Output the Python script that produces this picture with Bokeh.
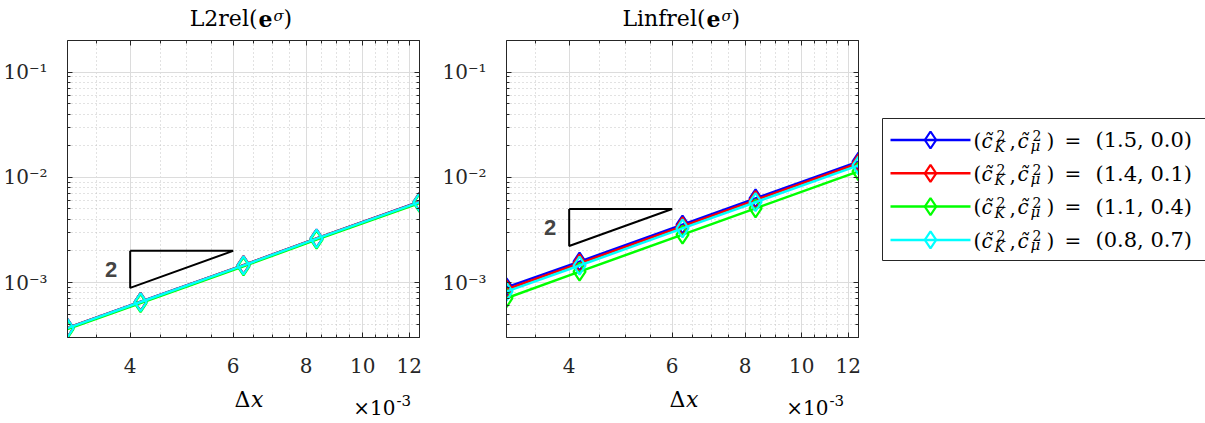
from bokeh.plotting import figure
from bokeh.models import Range1d, FixedTicker, CustomJSTickFormatter, LogAxis, Label
from bokeh.layouts import row, column
from bokeh.embed import file_html
from bokeh.resources import INLINE

# ---------------- data ----------------
dx = [1/320, 1/240, 1/160, 1/120, 1/80]
series_values = ["(1.5, 0.0)", "(1.4, 0.1)", "(1.1, 0.4)", "(0.8, 0.7)"]
colors = ["#0000ff", "#ff0000", "#00ff00", "#00ffff"]

l2_blue = [3.70e-4, 6.56e-4, 1.465e-3, 2.63e-3, 5.86e-3]
l2_red = [3.69e-4, 6.54e-4, 1.46e-3, 2.62e-3, 5.84e-3]
l2_green = [3.60e-4, 6.38e-4, 1.425e-3, 2.56e-3, 5.70e-3]
l2_cyan = [3.68e-4, 6.52e-4, 1.455e-3, 2.61e-3, 5.82e-3]

linf_blue = [9.0e-4, 1.58e-3, 3.55e-3, 6.3e-3, 1.41e-2]
linf_red = [8.6e-4, 1.52e-3, 3.42e-3, 6.08e-3, 1.36e-2]
linf_green = [7.1e-4, 1.27e-3, 2.85e-3, 5.07e-3, 1.14e-2]
linf_cyan = [8.2e-4, 1.45e-3, 3.27e-3, 5.8e-3, 1.30e-2]

x_ticks = [0.004, 0.006, 0.008, 0.010, 0.012]
x_minor = [0.0035, 0.0045, 0.005, 0.0055, 0.0065, 0.007, 0.0075, 0.0085,
           0.009, 0.0095, 0.0105, 0.011, 0.0115, 0.0125]
y_ticks = [1e-3, 1e-2, 1e-1]
y_minor = [3e-4, 4e-4, 5e-4, 6e-4, 7e-4, 8e-4, 9e-4,
           2e-3, 3e-3, 4e-3, 5e-3, 6e-3, 7e-3, 8e-3, 9e-3,
           2e-2, 3e-2, 4e-2, 5e-2, 6e-2, 7e-2, 8e-2, 9e-2, 2e-1]

tri_x = [0.004, 0.006]
l2_tri_top = 2e-3
linf_tri_top = 5e-3
tri_slope = 2

XMIN, XMAX = 1/320, 1/80
YMIN, YMAX = 3e-4, 0.2

SERIF = "DejaVu Serif"
AX = "#262626"
FW, FH = 352, 297
TOP_H = 32      # title strip
BOT_H = 38      # x-label strip
MB_TOP, MB_BOT = 8, 48
W1, W2, W3 = 439, 426, 340

yfmt_code = """
const e = Math.round(Math.log10(tick));
const sup = {"-":"\u207b","0":"\u2070","1":"\u00b9","2":"\u00b2","3":"\u00b3","4":"\u2074","5":"\u2075","6":"\u2076","7":"\u2077","8":"\u2078","9":"\u2079"};
return "10" + String(e).split("").map(c => sup[c]).join("");
"""
xfmt_code = "return String(Math.round(tick*1000));"


def style_axis(ax, show_labels):
    ax.axis_line_color = AX
    ax.axis_line_width = 1
    ax.major_tick_line_color = AX
    ax.minor_tick_line_color = AX
    ax.major_tick_in = 5
    ax.major_tick_out = 0
    ax.minor_tick_in = 3
    ax.minor_tick_out = 0
    if show_labels:
        ax.major_label_text_font = SERIF
        ax.major_label_text_font_size = "20px"
        ax.major_label_text_color = AX
    else:
        ax.major_label_text_font_size = "0px"
        ax.major_label_standoff = 0


def text_fig(w, h):
    f = figure(frame_width=w, frame_height=h, x_range=Range1d(0, w), y_range=Range1d(h, 0),
               output_backend="svg", toolbar_location=None, min_border=0, title=None,
               x_axis_location=None, y_axis_location=None)
    f.outline_line_color = None
    for g in f.grid:
        g.visible = False
    return f


def put(f, x, base, text, size, align="left", style="normal", font=SERIF):
    # 'base' is the wanted baseline; text is placed by its middle (cap-height centre)
    px = float(size.replace("px", ""))
    f.add_layout(Label(x=x, y=base - 0.365 * px, text=text, text_font=font, text_font_size=size,
                       text_font_style=style, text_align=align, text_baseline="middle",
                       text_color="black"))


def make_panel(series, tri_top, left_b, right_b):
    p = figure(frame_width=FW, frame_height=FH, x_axis_type="log", y_axis_type="log",
               x_range=Range1d(XMIN, XMAX), y_range=Range1d(YMIN, YMAX),
               output_backend="svg", toolbar_location=None, title=None,
               min_border_left=left_b, min_border_right=right_b,
               min_border_top=MB_TOP, min_border_bottom=MB_BOT)
    p.outline_line_color = None

    xt = FixedTicker(ticks=x_ticks, minor_ticks=x_minor)
    yt = FixedTicker(ticks=y_ticks, minor_ticks=y_minor)
    p.xaxis.ticker = xt
    p.yaxis.ticker = yt
    p.xaxis.formatter = CustomJSTickFormatter(code=xfmt_code)
    p.yaxis.formatter = CustomJSTickFormatter(code=yfmt_code)
    style_axis(p.xaxis[0], True)
    style_axis(p.yaxis[0], True)
    p.xaxis.major_label_standoff = 20
    p.yaxis.major_label_standoff = 20

    empty = CustomJSTickFormatter(code="return '';")
    top_ax = LogAxis(ticker=xt, formatter=empty)
    right_ax = LogAxis(ticker=yt, formatter=empty)
    style_axis(top_ax, False)
    style_axis(right_ax, False)
    p.add_layout(top_ax, "above")
    p.add_layout(right_ax, "right")

    for g in (p.xgrid[0], p.ygrid[0]):
        g.grid_line_color = "#dcdcdc"
        g.grid_line_width = 1
        g.minor_grid_line_color = "#c4c4c4"
        g.minor_grid_line_dash = "1 3"
        g.minor_grid_line_width = 1
    p.xgrid[0].ticker = xt
    p.ygrid[0].ticker = yt

    # slope triangle
    tri_bot = tri_top * (tri_x[0] / tri_x[1]) ** tri_slope
    p.line([tri_x[0], tri_x[1], tri_x[0], tri_x[0]], [tri_top, tri_top, tri_bot, tri_top],
           line_color="black", line_width=2)
    p.add_layout(Label(x=tri_x[0], y=(tri_top * tri_bot) ** 0.5, x_offset=-19,
                       text=str(tri_slope), text_font="Liberation Sans", text_font_style="bold",
                       text_font_size="22px", text_align="center", text_baseline="middle"))

    for vals, c in zip(series, colors):
        p.line(dx, vals, line_color=c, line_width=2.5)
        p.scatter(dx, vals, marker="diamond", size=18, line_color=c, fill_color=None, line_width=2.2)
    return p


def title_fig(w, main, a):
    f = text_fig(w, TOP_H)
    put(f, a, 26.5, main, "22px", align="right")
    put(f, a + 1, 26.5, "e", "22px", style="bold")
    put(f, a + 16, 21, "\u03c3", "15px", style="italic")
    put(f, a + 26, 26.5, ")", "22px")
    return f


def bottom_fig(w, dpos, epos):
    f = text_fig(w, BOT_H)
    put(f, dpos, 21.7, "\u0394", "22px", align="right")
    put(f, dpos + 0.5, 21.7, "x", "22px", style="italic")
    put(f, epos, 30, "\u00d710", "20px", align="right")
    put(f, epos + 1, 20, "-3", "15px")
    return f


p1 = make_panel([l2_blue, l2_red, l2_green, l2_cyan], l2_tri_top, 67, W1 - 67 - FW)
p2 = make_panel([linf_blue, linf_red, linf_green, linf_cyan], linf_tri_top, 62, W2 - 62 - FW)

t1 = title_fig(W1, "L2rel(", 257)
t2 = title_fig(W2, "Linfrel(", 266)
b1 = bottom_fig(W1, 250, 395)
b2 = bottom_fig(W2, 246, 389)

# ---------------- legend panel ----------------
p3 = figure(frame_width=W3, frame_height=FH, x_range=Range1d(0, W3), y_range=Range1d(FH, 0),
            output_backend="svg", toolbar_location=None, title=None,
            min_border_left=0, min_border_right=0,
            min_border_top=MB_TOP, min_border_bottom=MB_BOT,
            x_axis_location=None, y_axis_location=None)
p3.outline_line_color = None
for g in p3.grid:
    g.visible = False
p3.quad(left=[12], right=[339], top=[78], bottom=[220], fill_color="white",
        line_color=AX, line_width=1)

for i, (lab, c) in enumerate(zip(series_values, colors)):
    ry = 99.5 + i * 33.3
    p3.line([20, 100], [ry, ry], line_color=c, line_width=2.5)
    p3.scatter([60], [ry], marker="diamond", size=17, line_color=c, fill_color=None, line_width=2.2)
    b = ry + 8
    put(p3, 103, b, "(", "20px")
    put(p3, 111, b, "c\u0303", "20px", style="italic")
    put(p3, 126, ry + 1, "2", "14px")
    put(p3, 124, ry + 12, "K", "14px", style="italic")
    put(p3, 139, b, ",", "20px")
    put(p3, 147, b, "c\u0303", "20px", style="italic")
    put(p3, 162, ry + 1, "2", "14px")
    put(p3, 160, ry + 11, "\u03bc", "15px", style="italic")
    put(p3, 176, b, ")", "20px")
    put(p3, 194, b, "=", "20px")
    put(p3, 225, b, lab, "21px")

layout = column(row(t1, t2), row(p1, p2, p3), row(b1, b2))
open("out.html", "w").write(file_html(layout, INLINE))
